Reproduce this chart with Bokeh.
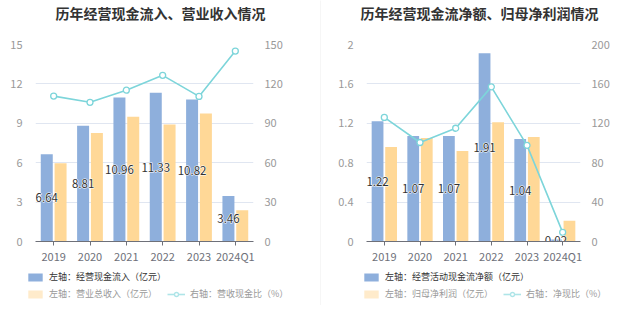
from bokeh.plotting import figure
from bokeh.models import (ColumnDataSource, LinearAxis, Range1d, Legend, LegendItem,
                          FactorRange, FixedTicker, Title)
from bokeh.transform import dodge
from bokeh.layouts import row, column
from bokeh.core.properties import value
from bokeh.embed import file_html
from bokeh.resources import INLINE

categories = ["2019", "2020", "2021", "2022", "2023", "2024Q1"]

# left chart
cash_inflow = [6.64, 8.81, 10.96, 11.33, 10.82, 3.46]
revenue = [5.96, 8.27, 9.50, 8.90, 9.75, 2.38]
cash_rev_ratio = [110.7, 106.0, 115.2, 126.5, 110.5, 145.0]
left_ticks_l = [0, 3, 6, 9, 12, 15]
left_ticks_r = [0, 30, 60, 90, 120, 150]
labels1 = ["左轴：经营现金流入（亿元）", "左轴：营业总收入（亿元）", "右轴：营收现金比（%）"]

# right chart
op_cash_net = [1.22, 1.07, 1.07, 1.91, 1.04, 0.02]
net_profit = [0.96, 1.05, 0.92, 1.21, 1.06, 0.21]
net_cash_ratio = [126.0, 100.5, 115.0, 157.0, 97.6, 9.3]
right_ticks_l = [0, 0.4, 0.8, 1.2, 1.6, 2]
right_ticks_r = [0, 40, 80, 120, 160, 200]
labels2 = ["左轴：经营活动现金流净额（亿元）", "左轴：归母净利润（亿元）", "右轴：净现比（%）"]

BLUE = "#8EAFDC"
YELLOW = "#FFD897"
CYAN = "#7DD5DA"
FONT = "Noto Sans CJK SC"

COMMON = dict(orientation="horizontal", padding=0, margin=0,
              spacing=10, label_standoff=5, glyph_width=18, glyph_height=10,
              label_height=10, label_text_font_size="9px",
              label_text_font=FONT, background_fill_alpha=0,
              border_line_alpha=0)


def bare(width, height, **kw):
    f = figure(width=width, height=height, toolbar_location=None,
               output_backend="svg", min_border=0, x_axis_location=None,
               y_axis_location=None, outline_line_color=None,
               x_range=(0, 1), y_range=(0, 1), **kw)
    f.xgrid.visible = False
    f.ygrid.visible = False
    return f


def make_title(text, width, toffset):
    t = bare(width, 26)
    t.title = Title(text=text, align="center", text_font_size="14px",
                    text_font=FONT, text_color="#333333", text_font_style="bold",
                    offset=toffset, standoff=0)
    return t


def make_chart(blue, yellow, ratio, lticks, rticks, width, ml, mr):
    p = figure(x_range=FactorRange(*categories), width=width, height=240,
               toolbar_location=None, output_backend="svg",
               min_border_left=ml, min_border_right=mr, min_border_top=18,
               min_border_bottom=22, outline_line_color=None)
    p.y_range = Range1d(lticks[0], lticks[-1])
    p.extra_y_ranges = {"r": Range1d(rticks[0], rticks[-1])}

    src = ColumnDataSource(dict(cat=categories, blue=blue, yellow=yellow,
                                ratio=ratio, half=[b / 2 for b in blue],
                                lab=["%.2f" % b for b in blue]))
    p.vbar(x=dodge("cat", -0.19, range=p.x_range), top="blue", width=0.33,
           source=src, fill_color=BLUE, line_color=None)
    p.vbar(x=dodge("cat", 0.19, range=p.x_range), top="yellow", width=0.33,
           source=src, fill_color=YELLOW, line_color=None)
    p.line(x="cat", y="ratio", source=src, y_range_name="r", line_color=CYAN,
           line_width=1.6)
    p.scatter(x="cat", y="ratio", source=src, y_range_name="r", size=6,
              fill_color="white", line_color=CYAN, line_width=1.3)
    txt = dict(x=dodge("cat", -0.19, range=p.x_range), y="half", text="lab",
               source=src, text_align="center", text_baseline="middle",
               text_font=value(FONT), text_font_size="11.5px")
    p.text(text_color="white", text_outline_color="white", **txt)
    p.text(text_color="#333333", **txt)

    p.yaxis.ticker = FixedTicker(ticks=lticks)
    p.yaxis.major_label_overrides = {t: str(t) for t in lticks}
    ra = LinearAxis(y_range_name="r", ticker=FixedTicker(ticks=rticks))
    p.add_layout(ra, "right")
    for ax in (p.yaxis[0], ra):
        ax.axis_line_color = None
        ax.major_tick_line_color = None
        ax.minor_tick_line_color = None
        ax.major_label_text_color = "#999999"
        ax.major_label_text_font_size = "11px"
        ax.major_label_text_font = FONT
    p.yaxis[0].major_label_standoff = 7
    ra.major_label_standoff = 5
    xa = p.xaxis[0]
    xa.axis_line_color = "#6E7079"
    xa.major_tick_line_color = "#6E7079"
    xa.major_tick_out = 4
    xa.major_tick_in = 0
    xa.major_label_standoff = 2
    xa.major_label_text_color = "#6E7079"
    xa.major_label_text_font_size = "11px"
    xa.major_label_text_font = FONT
    p.xgrid.grid_line_color = None
    p.ygrid.grid_line_color = "#E0E6F1"
    p.ygrid.ticker = FixedTicker(ticks=lticks)
    return p


def make_legend(labels, width, vx):
    f = bare(width, 61)
    r1 = f.vbar(x=[0.5], top=[0], bottom=[0], width=0.0001, fill_color=BLUE,
                line_color=None)
    r2 = f.vbar(x=[0.5], top=[0], bottom=[0], width=0.0001, fill_color="#FFEBCB",
                line_color=None)
    r3 = f.line(x=[0.5, 0.5], y=[-10, -10], line_color="#AEE5E8", line_width=1.6)
    r4 = f.scatter(x=[0.5], y=[-10], size=8, fill_color="white",
                   line_color="#AEE5E8", line_width=1.3)
    f.add_layout(Legend(items=[LegendItem(label=labels[0], renderers=[r1])],
                        label_text_color="#333333", location=(vx, 44), **COMMON))
    f.add_layout(Legend(items=[LegendItem(label=labels[1], renderers=[r2]),
                               LegendItem(label=labels[2], renderers=[r3, r4])],
                        label_text_color="#999999", location=(vx, 27), **COMMON))
    return f


t1 = make_title("历年经营现金流入、营业收入情况", 320, -5)
p1 = make_chart(cash_inflow, revenue, cash_rev_ratio, left_ticks_l, left_ticks_r,
                320, 35, 67)
l1 = make_legend(labels1, 320, 26)
t2 = make_title("历年经营现金流净额、归母净利润情况", 316, 4)
p2 = make_chart(op_cash_net, net_profit, net_cash_ratio, right_ticks_l,
                right_ticks_r, 316, 45, 57)
l2 = make_legend(labels2, 316, 41)

div = bare(1, 305, background_fill_color="#EEEEEE", border_fill_color="#EEEEEE")

layout = row(column(row(t1), row(p1), row(l1)), div,
             column(row(t2), row(p2), row(l2)), spacing=0)
open("out.html", "w").write(file_html(layout, INLINE))
